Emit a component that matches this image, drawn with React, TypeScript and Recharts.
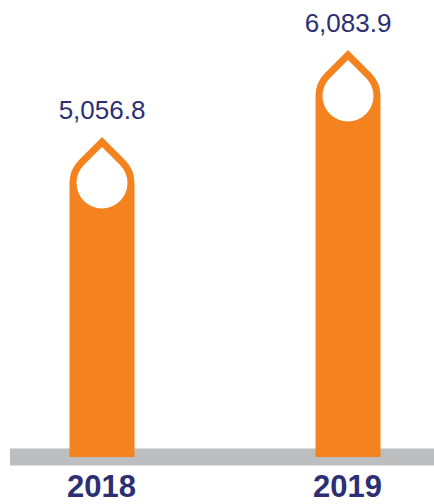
import { BarChart, Bar, XAxis, YAxis, LabelList } from 'recharts';

const years = ['2018', '2019'];
const totals = [5056.8, 6083.9];

const data = years.map((year, i) => ({ year, total: totals[i] }));

const ORANGE = '#F4821F';
const GREY = '#BCBEC0';
const NAVY = '#2C2F73';
const FONT = "Arial, 'Liberation Sans', sans-serif";

// bar with a drop-shaped head and a hollow drop inside it
function DropBar(props: any) {
  const { x, y, width, height } = props;
  const R = width / 2;
  const cx = x + R;
  const cy = y + R * Math.SQRT2;
  const bottom = y + height;
  const k = R / Math.SQRT2;
  const r = R - 7;
  const kr = r / Math.SQRT2;
  const d =
    `M${cx},${y} L${cx - k},${cy - k} A${R},${R} 0 0 0 ${cx - R},${cy} ` +
    `L${cx - R},${bottom} L${cx + R},${bottom} L${cx + R},${cy} ` +
    `A${R},${R} 0 0 0 ${cx + k},${cy - k} Z ` +
    `M${cx},${cy - r * Math.SQRT2} L${cx - kr},${cy - kr} ` +
    `A${r},${r} 0 1 0 ${cx + kr},${cy - kr} Z`;
  return <path d={d} fill={ORANGE} fillRule='evenodd' />;
}

export default function App() {
  return (
    <div style={{ position: 'absolute', left: 0, top: 0, width: 434, height: 504 }}>
      <BarChart width={434} height={504} data={data} margin={{ top: 0, right: 0, bottom: 0, left: 10 }}>
        <XAxis
          dataKey='year'
          height={47}
          padding={{ left: -31.5, right: -36.5 }}
          axisLine={{ stroke: GREY, strokeWidth: 17 }}
          tickLine={false}
          tickSize={0}
          tickMargin={18}
          tick={{ fill: NAVY, fontSize: 31, fontWeight: 'bold', fontFamily: FONT }}
        />
        <YAxis hide domain={[1279, 6674]} allowDataOverflow />
        <Bar
          dataKey='total'
          barSize={65}
          shape={DropBar}
          isAnimationActive={false}
          {...({ zIndex: 700 } as any)}
        >
          <LabelList
            dataKey='total'
            position='top'
            offset={18}
            formatter={(v: any) => Number(v).toLocaleString('en-US', { minimumFractionDigits: 1, maximumFractionDigits: 1 })}
            style={{ fill: NAVY, fontSize: 26, fontFamily: FONT }}
          />
        </Bar>
      </BarChart>
    </div>
  );
}
